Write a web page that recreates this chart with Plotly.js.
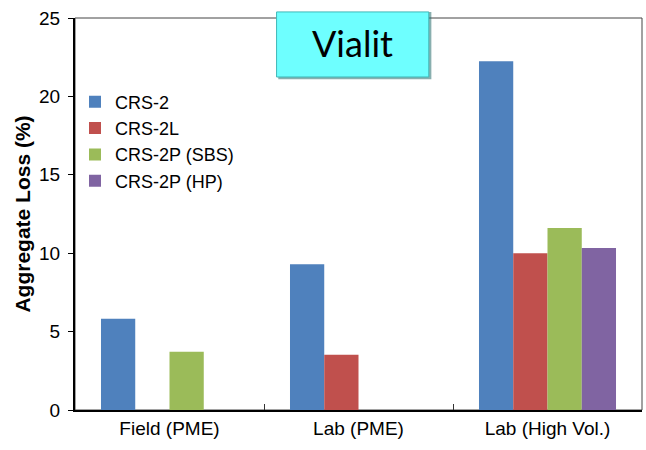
<!DOCTYPE html>
<html><head><meta charset="utf-8">
<script src="https://cdn.plot.ly/plotly-3.0.1.min.js"></script>
<style>body{margin:0;background:#fff}#chart{width:646px;height:450px}</style>
</head><body><div id="chart"></div>
<script>
const categories = ["Field (PME)", "Lab (PME)", "Lab (High Vol.)"];
const seriesNames = ["CRS-2", "CRS-2L", "CRS-2P (SBS)", "CRS-2P (HP)"];
const crs2 = [5.82, 9.29, 22.24];
const crs2L = [null, 3.53, 9.99];
const crs2P_SBS = [3.72, null, 11.61];
const crs2P_HP = [null, null, 10.33];
const yTicks = [0, 5, 10, 15, 20, 25];
const colors = ["#4F81BD", "#C0504D", "#9BBB59", "#8064A2"];
const seriesValues = [crs2, crs2L, crs2P_SBS, crs2P_HP];

const traces = seriesValues.map((vals, i) => ({
  type: "bar", x: categories, y: vals, name: seriesNames[i],
  marker: {color: colors[i], line: {width: 0}}
}));

const layout = {
  width: 646, height: 450,
  margin: {l: 75, r: 4, t: 18, b: 40},
  paper_bgcolor: "#fff", plot_bgcolor: "#fff",
  barmode: "group", bargap: 0.275, bargroupgap: 0,
  font: {family: "Liberation Sans, Arial, sans-serif", color: "#000", size: 18},
  showlegend: true,
  legend: {x: 0.0, y: 0.833, xanchor: "left", yanchor: "top", bgcolor: "rgba(0,0,0,0)",
           font: {size: 18, color: "#000"}, traceorder: "normal", itemwidth: 30},
  xaxis: {type: "category", showline: true, linecolor: "#000", linewidth: 2,
          ticks: "inside", tickson: "boundaries", ticklen: 6, tickcolor: "#333", tickwidth: 1,
          tickfont: {size: 19}, showgrid: false, zeroline: false},
  yaxis: {range: [0, 25], tickvals: yTicks, ticktext: yTicks.map(String),
          showline: true, linecolor: "#000", linewidth: 2, ticks: "outside", ticklen: 5,
          tickcolor: "#000", tickwidth: 1, tickfont: {size: 19}, ticklabelstandoff: 4,
          showgrid: false, zeroline: false,
          title: {text: "<b>Aggregate Loss (%)</b>", font: {size: 21}, standoff: 3}},
  shapes: [
    {type: "rect", xref: "paper", yref: "paper", x0: 0, x1: 1, y0: 0, y1: 1,
     line: {color: "#444", width: 1}, fillcolor: "rgba(0,0,0,0)", layer: "below"},
    {type: "rect", xref: "paper", yref: "paper", x0: 0.3585, x1: 0.6285, y0: 0.8435, y1: 1.0155,
     line: {width: 0}, fillcolor: "rgba(40,110,110,0.55)"},
    {type: "rect", xref: "paper", yref: "paper", x0: 0.3555, x1: 0.624, y0: 0.8495, y1: 1.0155,
     line: {color: "#3fb8b8", width: 1}, fillcolor: "#6EFFFF"}
  ],
  annotations: [
    {xref: "paper", yref: "paper", x: 0.4895, y: 0.935, text: "Vialit", showarrow: false,
     font: {family: "Lato, Open Sans, sans-serif", size: 36, color: "#000"}, xanchor: "center", yanchor: "middle"}
  ]
};
Plotly.newPlot("chart", traces, layout, {displayModeBar: false, staticPlot: true});
</script></body></html>
